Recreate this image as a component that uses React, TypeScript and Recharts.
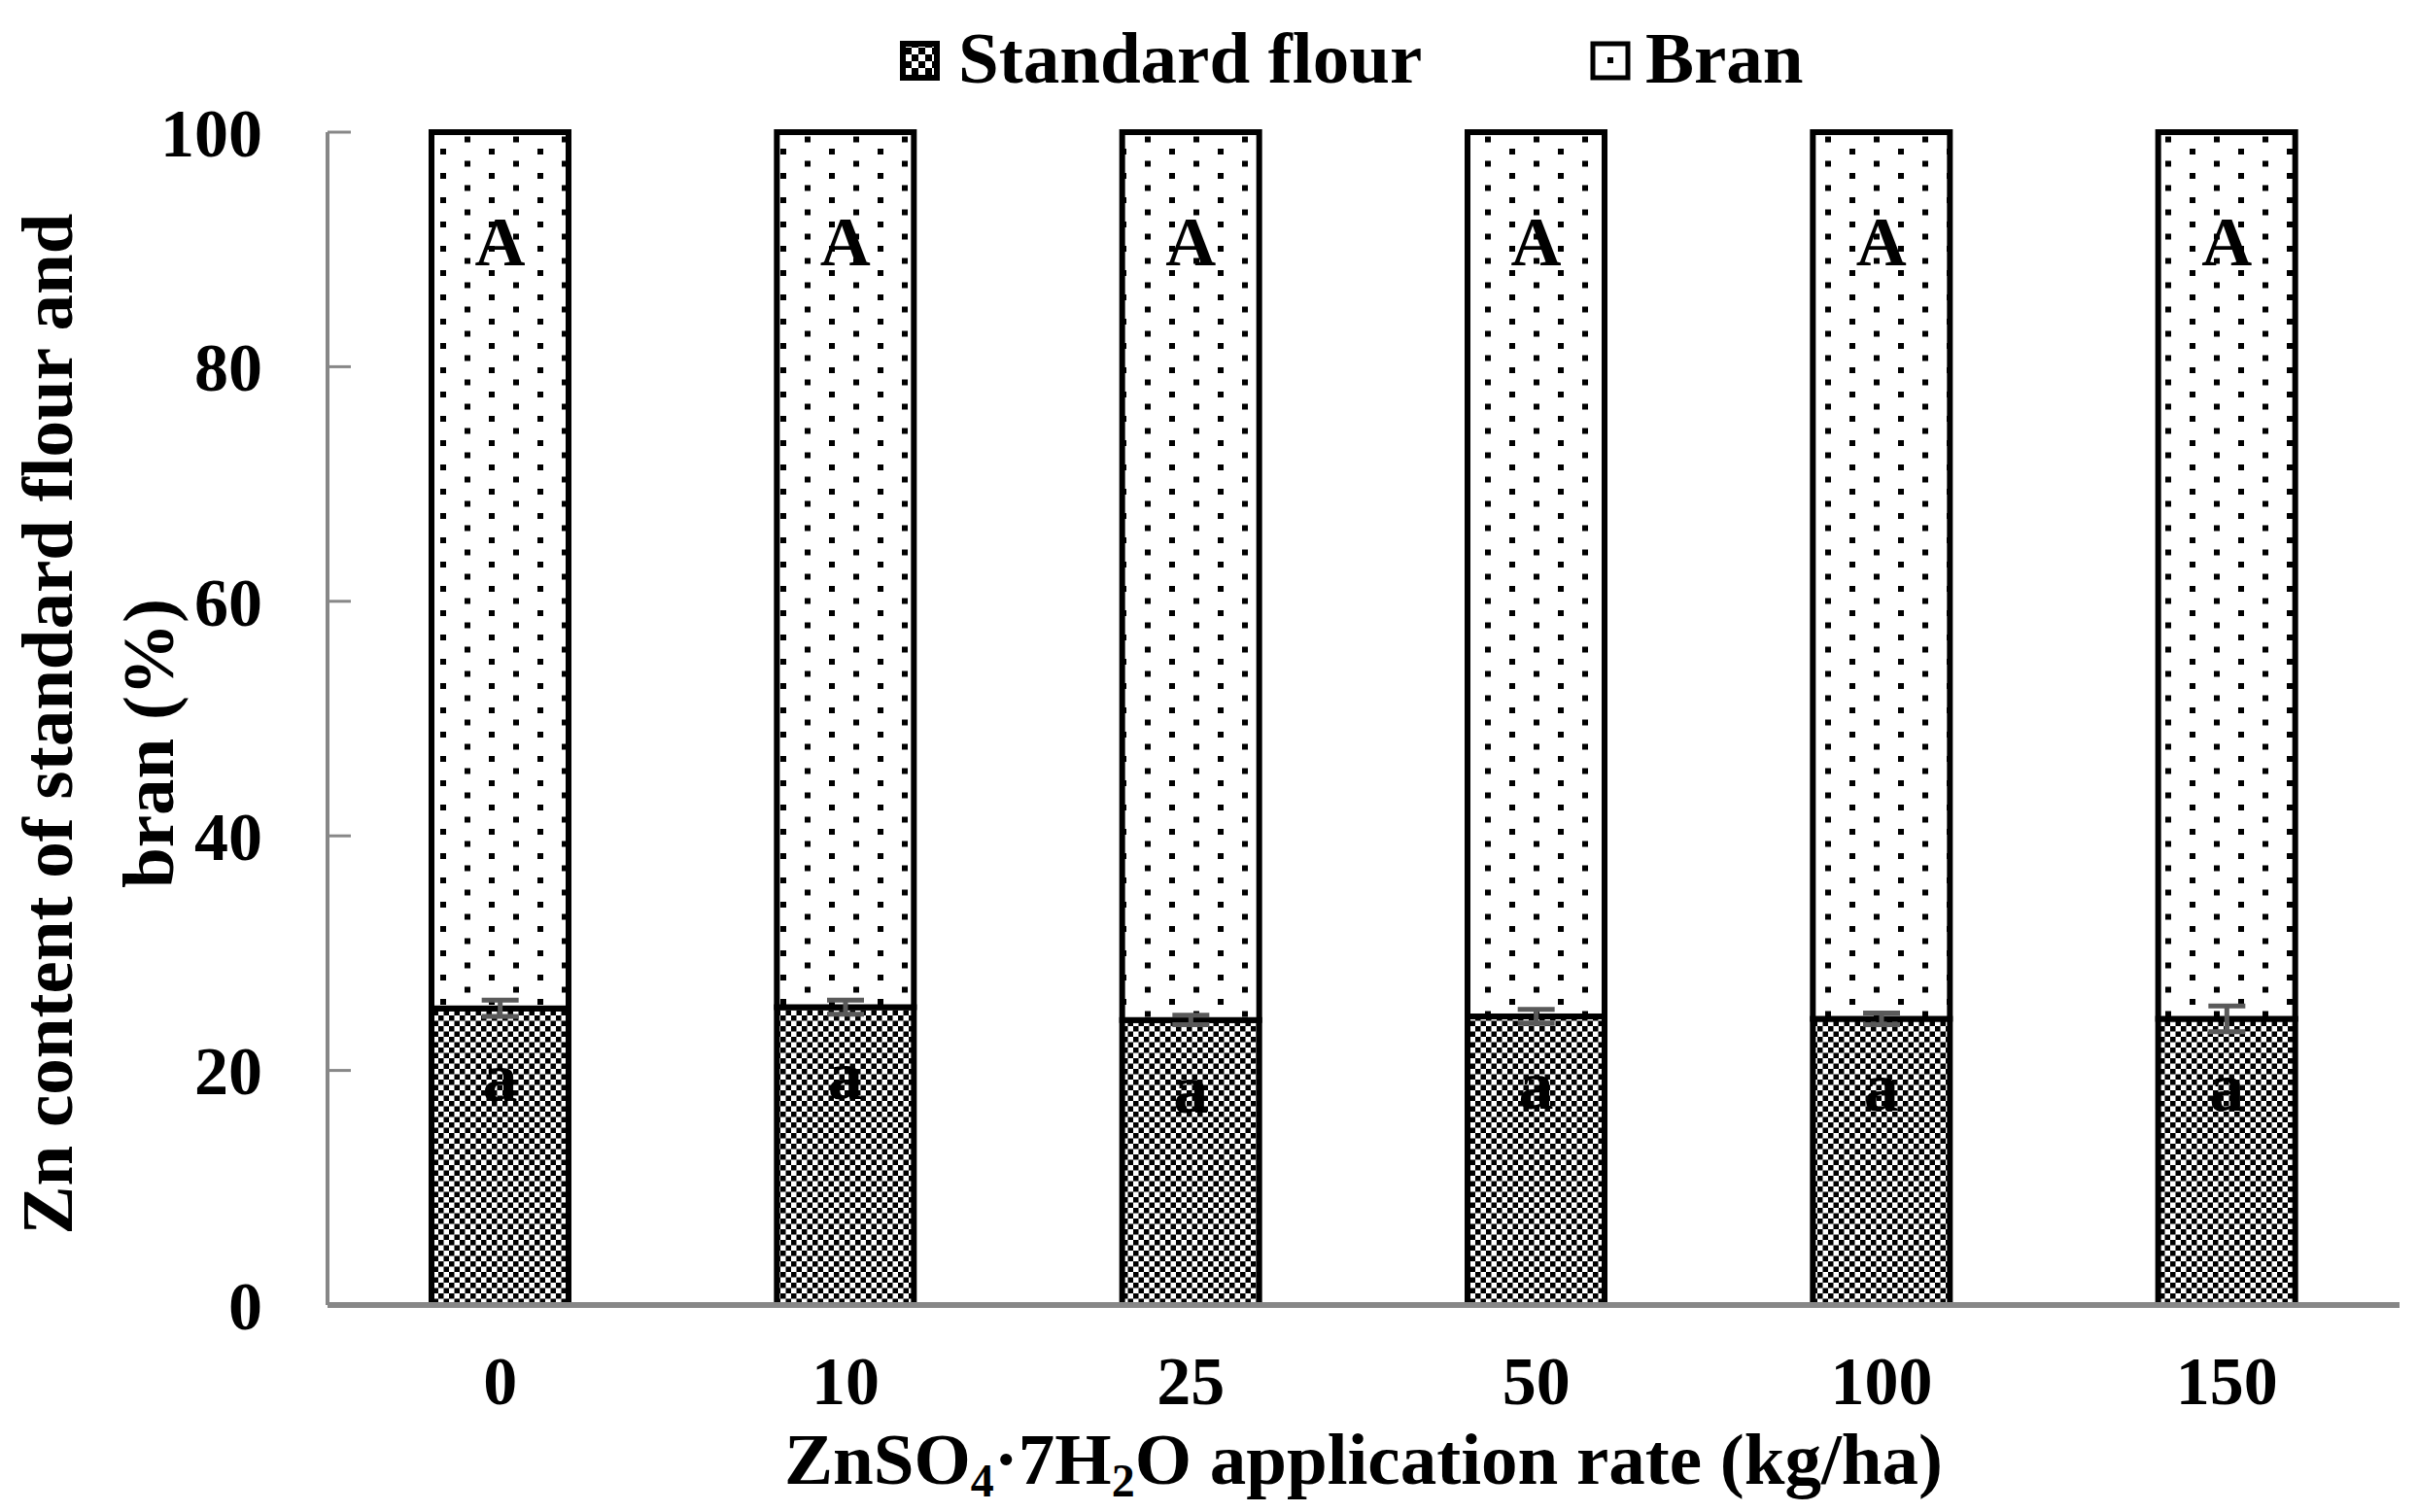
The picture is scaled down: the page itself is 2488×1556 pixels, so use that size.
import { ComposedChart, Bar, Scatter, ErrorBar, XAxis, YAxis, Legend, LabelList, Label } from 'recharts'

const FONT = '"Liberation Serif", "Times New Roman", serif'
const AXIS = '#878787'
const ERR = '#5a5a5a'

const rates = ['0', '10', '25', '50', '100', '150']
const flour = [25.3, 25.4, 24.3, 24.6, 24.4, 24.4]
const flourErr = [0.7, 0.6, 0.4, 0.6, 0.5, 1.1]
const bran = [74.7, 74.6, 75.7, 75.4, 75.6, 75.6]
const flourLetters = ['a', 'a', 'a', 'a', 'a', 'a']
const branLetters = ['A', 'A', 'A', 'A', 'A', 'A']
const yTicks = [0, 20, 40, 60, 80, 100]

const data = rates.map((rate, i) => ({
  rate,
  flour: flour[i],
  flourErr: flourErr[i],
  bran: bran[i],
  flourLetter: flourLetters[i],
  branLetter: branLetters[i],
}))

const letterAt = (dy: number) => (p: any) => (
  <text
    x={p.x + p.width / 2}
    y={p.y + dy}
    textAnchor="middle"
    fontFamily={FONT}
    fontWeight="bold"
    fontSize={72}
    fill="#000"
  >
    {p.value}
  </text>
)

function LegendContent() {
  return (
    <svg width={2488} height={120} style={{ fontFamily: FONT }}>
      <defs>
        <pattern id="lgChecker" patternUnits="userSpaceOnUse" width={14} height={14}>
          <rect width={14} height={14} fill="#fff" />
          <rect width={7} height={7} fill="#000" />
          <rect x={7} y={7} width={7} height={7} fill="#000" />
        </pattern>
      </defs>
      <rect x={929} y={45} width={35} height={35} fill="url(#lgChecker)" stroke="#000" strokeWidth={6} />
      <text x={986} y={85} fontSize={75} fontWeight="bold" fill="#000">Standard flour</text>
      <rect x={1639} y={45} width={36} height={35} fill="#fff" stroke="#000" strokeWidth={5} />
      <rect x={1654} y={59} width={6} height={6} fill="#000" />
      <text x={1693} y={85} fontSize={75} fontWeight="bold" fill="#000">Bran</text>
    </svg>
  )
}

function YTitle() {
  const style = { fontFamily: FONT, fontWeight: 'bold' as const, fontSize: 75, fill: '#000' }
  return (
    <g>
      <text transform="translate(48,745) rotate(-90)" textAnchor="middle" dominantBaseline="central" {...style}>
        Zn content of standard flour and
      </text>
      <text transform="translate(152,765) rotate(-90)" textAnchor="middle" dominantBaseline="central" {...style}>
        bran (%)
      </text>
    </g>
  )
}

function XTitle() {
  return (
    <text x={1403} y={1527} textAnchor="middle" fontFamily={FONT} fontWeight="bold" fontSize={75} fill="#000">
      ZnSO
      <tspan dy={13} fontSize={48}>4</tspan>
      <tspan dy={-13}>{'\u00B77H'}</tspan>
      <tspan dy={13} fontSize={48}>2</tspan>
      <tspan dy={-13}>O application rate (kg/ha)</tspan>
    </text>
  )
}

export default function App() {
  return (
    <div style={{ position: 'absolute', left: 0, top: 0, width: 2488, height: 1556, background: '#fff' }}>
      <ComposedChart
        width={2488}
        height={1556}
        data={data}
        margin={{ top: 136, right: 19, bottom: 113, left: 0 }}
        barSize={141}
      >
        <defs>
          <pattern id="checker" patternUnits="userSpaceOnUse" width={11} height={11}>
            <rect width={11} height={11} fill="#fff" />
            <rect width={5.5} height={5.5} fill="#000" />
            <rect x={5.5} y={5.5} width={5.5} height={5.5} fill="#000" />
          </pattern>
          <pattern id="dots" patternUnits="userSpaceOnUse" width={50} height={25}>
            <rect width={50} height={25} fill="#fff" />
            <rect x={3} y={3} width={6} height={6} fill="#000" />
            <rect x={28} y={15.5} width={6} height={6} fill="#000" />
          </pattern>
        </defs>
        <Legend
          verticalAlign="middle"
          align="center"
          layout="horizontal"
          content={<LegendContent />}
          wrapperStyle={{ top: 0, left: 0, width: 2488, height: 120 }}
        />
        <XAxis
          dataKey="rate"
          height={100}
          tickLine={false}
          tickSize={0}
          tickMargin={52}
          axisLine={{ stroke: AXIS, strokeWidth: 6 }}
          tick={{ fontFamily: FONT, fontWeight: 'bold', fontSize: 70, fill: '#000' }}
        >
          <Label content={<XTitle />} />
        </XAxis>
        <YAxis
          type="number"
          domain={[0, 100]}
          ticks={yTicks}
          width={337}
          tickSize={-24}
          tickMargin={91}
          tickLine={{ stroke: AXIS, strokeWidth: 3 }}
          axisLine={{ stroke: AXIS, strokeWidth: 4 }}
          tick={{ fontFamily: FONT, fontWeight: 'bold', fontSize: 70, fill: '#000' }}
        >
          <Label content={<YTitle />} />
        </YAxis>
        <Bar
          dataKey="flour"
          name="Standard flour"
          stackId="s"
          fill="url(#checker)"
          stroke="#000"
          strokeWidth={6}
          isAnimationActive={false}
        >
          <LabelList dataKey="flourLetter" content={letterAt(95)} />
        </Bar>
        <Bar
          dataKey="bran"
          name="Bran"
          stackId="s"
          fill="url(#dots)"
          stroke="#000"
          strokeWidth={6}
          isAnimationActive={false}
        >
          <LabelList dataKey="branLetter" content={letterAt(137)} />
        </Bar>
        <Scatter dataKey="flour" legendType="none" shape={() => <g />} isAnimationActive={false}>
          <ErrorBar dataKey="flourErr" direction="y" width={19} stroke={ERR} strokeWidth={5} isAnimationActive={false} />
        </Scatter>
      </ComposedChart>
    </div>
  )
}
